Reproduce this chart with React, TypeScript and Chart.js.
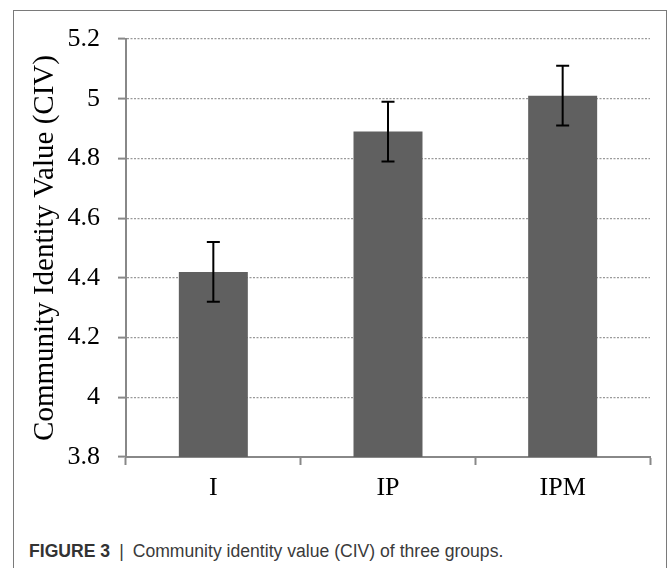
import React, { useEffect, useRef } from "react";
import { Chart, registerables } from "chart.js";

Chart.register(...registerables);

const categories = ["I", "IP", "IPM"];
const civMeans = [4.42, 4.89, 5.01];
const civErrors = [0.1, 0.1, 0.1];
const yMin = 3.8;
const yMax = 5.2;
const yStep = 0.2;
const yTickLabels = ["3.8", "4", "4.2", "4.4", "4.6", "4.8", "5", "5.2"];
const yTitle = "Community Identity Value (CIV)";
const captionLabel = "FIGURE 3";
const captionText = "Community identity value (CIV) of three groups.";

const errorBarPlugin = {
  id: "errorBars",
  afterDatasetsDraw(chart: any) {
    const ctx = chart.ctx;
    const meta = chart.getDatasetMeta(0);
    const yScale = chart.scales.y;
    ctx.save();
    ctx.strokeStyle = "#000000";
    ctx.lineWidth = 2;
    meta.data.forEach((bar: any, i: number) => {
      const v = civMeans[i];
      const e = civErrors[i];
      const yTop = yScale.getPixelForValue(v + e);
      const yBot = yScale.getPixelForValue(v - e);
      const x = bar.x;
      const cap = 6.5;
      ctx.beginPath();
      ctx.moveTo(x, yTop);
      ctx.lineTo(x, yBot);
      ctx.moveTo(x - cap, yTop);
      ctx.lineTo(x + cap, yTop);
      ctx.moveTo(x - cap, yBot);
      ctx.lineTo(x + cap, yBot);
      ctx.stroke();
    });
    ctx.restore();
  },
};

export default function App() {
  const canvasRef = useRef<HTMLCanvasElement | null>(null);

  useEffect(() => {
    if (!canvasRef.current) return;
    const serif = "'Liberation Serif', 'Times New Roman', serif";
    const chart = new Chart(canvasRef.current, {
      type: "bar",
      data: {
        labels: categories,
        datasets: [
          {
            data: civMeans,
            backgroundColor: "#606060",
            borderWidth: 0,
            categoryPercentage: 1,
            barPercentage: 0.395,
          },
        ],
      },
      options: {
        animation: false,
        responsive: false,
        devicePixelRatio: 1,
        layout: { padding: { left: 0, right: 18, top: 39, bottom: 0 } },
        plugins: {
          legend: { display: false },
          tooltip: { enabled: false },
        },
        scales: {
          x: {
            afterFit: (s: any) => {
              s.height = 63;
            },
            grid: {
              drawOnChartArea: false,
              drawTicks: true,
              tickLength: 8,
              tickColor: "#888888",
              tickWidth: 2,
            },
            border: { display: true, color: "#888888", width: 2 },
            ticks: {
              color: "#000000",
              padding: 8,
              font: { family: serif, size: 26 },
            },
          },
          y: {
            min: yMin,
            max: yMax,
            afterFit: (s: any) => {
              s.width = 126;
            },
            ticks: {
              stepSize: yStep,
              color: "#000000",
              padding: 18,
              font: { family: serif, size: 26 },
              callback: (_v: any, i: number) => yTickLabels[i],
            },
            grid: {
              color: "#9a9a9a",
              lineWidth: 1.2,
              drawTicks: true,
              tickLength: 8,
              tickColor: "#888888",
              tickWidth: 2,
              tickBorderDash: [],
            },
            border: { display: true, color: "#888888", width: 2, dash: [2, 1.5] },
            title: {
              display: true,
              text: yTitle,
              color: "#000000",
              font: { family: serif, size: 29 },
              padding: { top: 28, bottom: 0 },
            },
          },
        },
      },
      plugins: [errorBarPlugin],
    });
    return () => chart.destroy();
  }, []);

  return (
    <div
      style={{
        position: "absolute",
        left: 0,
        top: 0,
        width: 668,
        height: 568,
        background: "#ffffff",
        overflow: "hidden",
      }}
    >
      <div
        style={{
          position: "absolute",
          left: 13,
          top: 10,
          width: 652,
          height: 620,
          border: "1px solid #7a7a7a",
        }}
      />
      <canvas
        ref={canvasRef}
        width={668}
        height={520}
        style={{ position: "absolute", left: 0, top: 0, width: 668, height: 520 }}
      />
      <div
        style={{
          position: "absolute",
          left: 29,
          top: 541,
          fontFamily: "'Liberation Sans', Arial, sans-serif",
          fontSize: 17.6,
          lineHeight: "20px",
          color: "#3a3a3a",
          whiteSpace: "nowrap",
        }}
      >
        <span style={{ fontWeight: "bold", color: "#333333" }}>{captionLabel}</span>
        <span style={{ margin: "0 9px" }}>|</span>
        <span>{captionText}</span>
      </div>
    </div>
  );
}
